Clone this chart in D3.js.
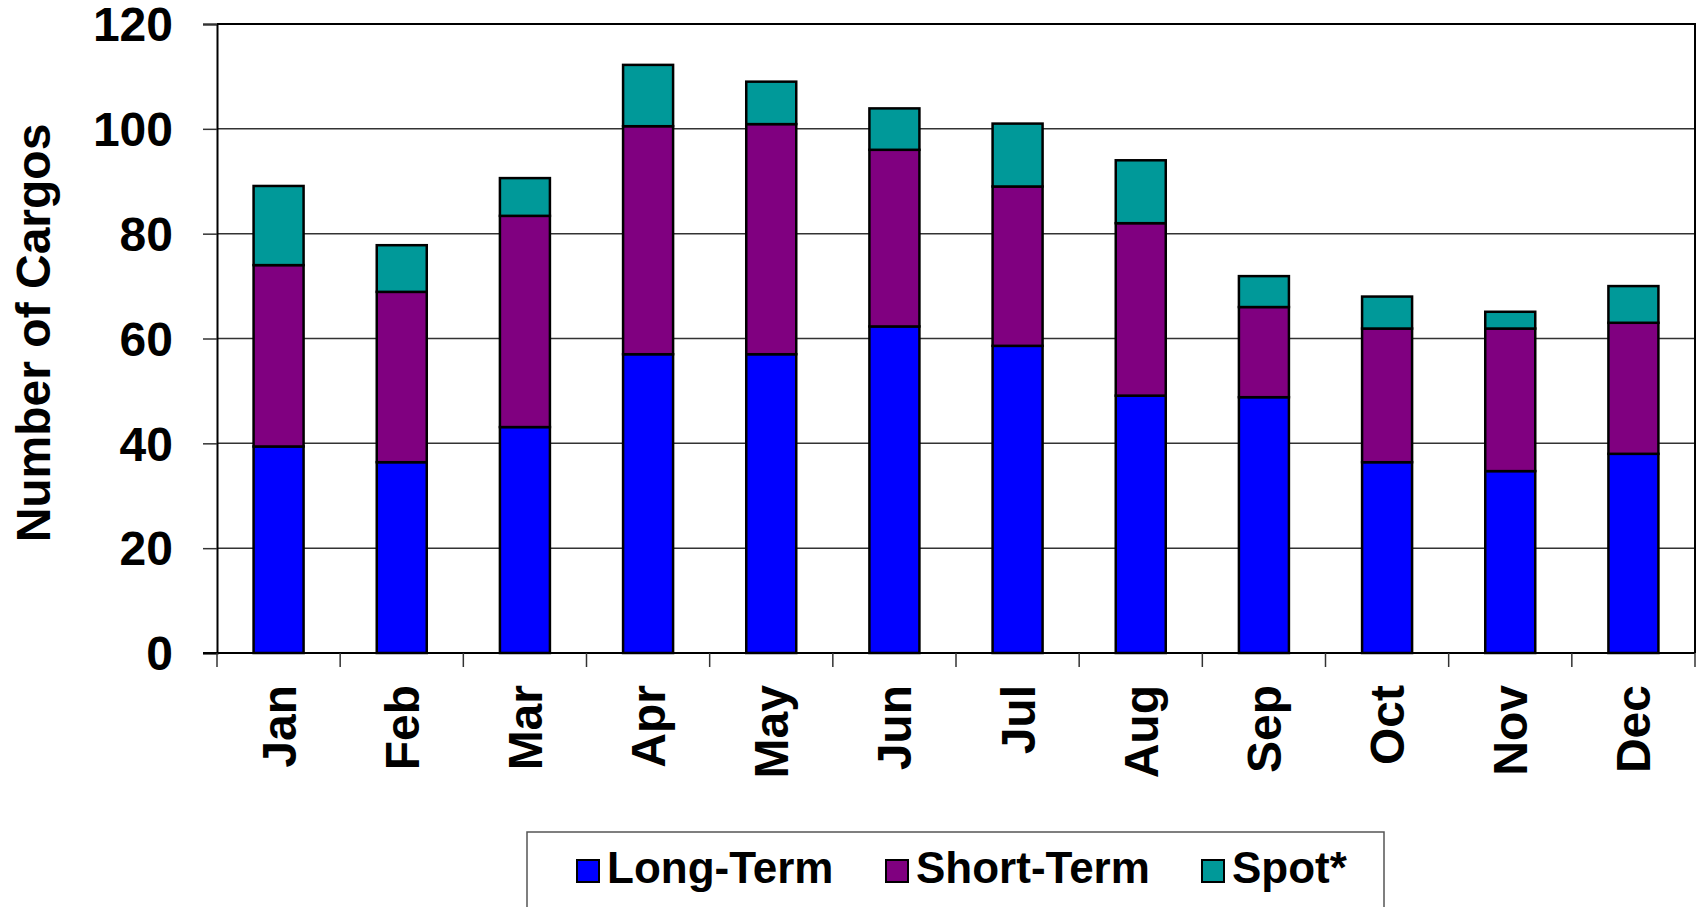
<!DOCTYPE html>
<html>
<head>
<meta charset="utf-8">
<script src="https://cdn.jsdelivr.net/npm/d3@7"></script>
<style>
  body { margin: 0; background: #fff; }
  svg text { font-family: "Liberation Sans", Arial, sans-serif; font-weight: bold; fill: #000; }
</style>
</head>
<body>
<div id="chart"></div>
<script>
// months and series (segment heights)
var months = ["Jan","Feb","Mar","Apr","May","Jun","Jul","Aug","Sep","Oct","Nov","Dec"];
var longTerm  = [39.4, 36.4, 43.1, 57.0, 57.0, 62.3, 58.6, 49.1, 48.8, 36.4, 34.7, 38.0];
var shortTerm = [34.6, 32.5, 40.3, 43.5, 43.9, 33.7, 30.4, 32.9, 17.2, 25.5, 27.2, 25.0];
var spot      = [15.1,  8.9,  7.2, 11.7,  8.1,  7.9, 12.0, 12.0,  5.9,  6.1,  3.2,  7.0];
var seriesNames = ["Long-Term", "Short-Term", "Spot*"];
var seriesColors = ["#0000ff", "#800080", "#009999"];
var yTicks = [0, 20, 40, 60, 80, 100, 120];

var width = 1698, height = 907;
var plotLeft = 217, plotRight = 1695, plotTop = 24, plotBottom = 653;

var svg = d3.select("#chart").append("svg")
    .attr("width", width)
    .attr("height", height);

var x = d3.scaleBand().domain(months).range([plotLeft, plotRight]).padding(0);
var y = d3.scaleLinear().domain([0, 120]).range([plotBottom, plotTop]);

// gridlines
svg.selectAll("line.grid")
    .data(yTicks.filter(function(d){ return d > 0; }))
    .enter().append("line")
    .attr("class", "grid")
    .attr("x1", plotLeft).attr("x2", plotRight)
    .attr("y1", function(d){ return y(d); })
    .attr("y2", function(d){ return y(d); })
    .style("stroke", "#333")
    .style("stroke-width", 1.5);

// plot frame (top, right)
svg.append("path")
    .attr("d", "M" + plotLeft + "," + plotTop + "H" + plotRight + "V" + plotBottom)
    .style("fill", "none")
    .style("stroke", "#000")
    .style("stroke-width", 2);

// stacked bars
var rows = months.map(function(m, i){
    return { month: m, "Long-Term": longTerm[i], "Short-Term": shortTerm[i], "Spot*": spot[i] };
});
var stacked = d3.stack().keys(seriesNames)(rows);
var bw = x.bandwidth() * 0.406;

svg.selectAll("g.layer")
    .data(stacked)
    .enter().append("g")
    .attr("class", "layer")
    .style("fill", function(d, i){ return seriesColors[i]; })
    .selectAll("rect")
    .data(function(d){ return d; })
    .enter().append("rect")
    .attr("x", function(d){ return x(d.data.month) + (x.bandwidth() - bw) / 2; })
    .attr("width", bw)
    .attr("y", function(d){ return y(d[1]); })
    .attr("height", function(d){ return y(d[0]) - y(d[1]); })
    .style("stroke", "#000")
    .style("stroke-width", 2.5);

// y axis
var yAxis = svg.append("g")
    .attr("transform", "translate(" + plotLeft + ",0)")
    .call(d3.axisLeft(y).tickValues(yTicks).tickSize(14).tickPadding(30));
yAxis.select(".domain").style("stroke", "#000").style("stroke-width", 2);
yAxis.selectAll(".tick line").style("stroke", "#333").style("stroke-width", 1.5);
yAxis.selectAll("text")
    .style("font-size", "48px")
    .attr("dy", "0.35em");

// x axis: ticks at band edges
var xAxis = svg.append("g").attr("transform", "translate(0," + plotBottom + ")");
xAxis.append("line")
    .attr("x1", plotLeft - 14).attr("x2", plotRight)
    .style("stroke", "#000").style("stroke-width", 2);
var edges = months.map(function(m){ return x(m); }).concat([plotRight]);
xAxis.selectAll("line.tk")
    .data(edges)
    .enter().append("line")
    .attr("class", "tk")
    .attr("x1", function(d){ return d; }).attr("x2", function(d){ return d; })
    .attr("y1", 0).attr("y2", 14)
    .style("stroke", "#333").style("stroke-width", 1.5);
xAxis.selectAll("text")
    .data(months)
    .enter().append("text")
    .attr("transform", function(d){
        return "translate(" + (x(d) + x.bandwidth() / 2 + 17) + ",32) rotate(-90)";
    })
    .attr("text-anchor", "end")
    .style("font-size", "48px")
    .text(function(d){ return d; });

// y axis title
svg.append("text")
    .attr("transform", "translate(50,333) rotate(-90)")
    .attr("text-anchor", "middle")
    .style("font-size", "48px")
    .text("Number of Cargos");

// legend
svg.append("rect")
    .attr("x", 527).attr("y", 832)
    .attr("width", 857).attr("height", 90)
    .style("fill", "#fff")
    .style("stroke", "#555")
    .style("stroke-width", 1.5);
var legendX = [577, 886, 1202];
var legend = svg.selectAll("g.leg")
    .data(seriesNames)
    .enter().append("g")
    .attr("class", "leg")
    .attr("transform", function(d, i){ return "translate(" + legendX[i] + ",860)"; });
legend.append("rect")
    .attr("width", 22).attr("height", 22)
    .style("fill", function(d, i){ return seriesColors[i]; })
    .style("stroke", "#000")
    .style("stroke-width", 2);
legend.append("text")
    .attr("x", 30).attr("y", 23)
    .style("font-size", "44px")
    .text(function(d){ return d; });
</script>
</body>
</html>
